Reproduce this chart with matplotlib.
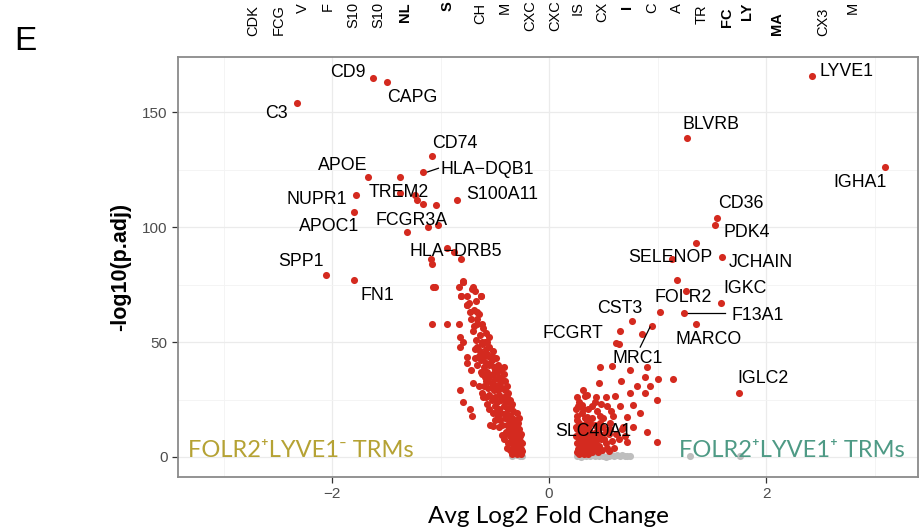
import matplotlib
matplotlib.use("Agg")
from matplotlib import pyplot as plt
from matplotlib.ticker import MultipleLocator

# labelled genes: avg log2 fold change and -log10(p.adj)
genes = ["CD9", "CAPG", "C3", "CD74", "HLA-DQB1", "APOE", "TREM2", "NUPR1",
         "APOC1", "S100A11", "FCGR3A", "HLA-DRB5", "SPP1", "FN1",
         "LYVE1", "BLVRB", "IGHA1", "CD36", "PDK4", "SELENOP", "JCHAIN",
         "IGKC", "FOLR2", "F13A1", "MARCO", "CST3", "FCGRT", "MRC1",
         "IGLC2", "SLC40A1"]
gene_fc = [-1.62, -1.49, -2.32, -1.08, -1.16, -1.67, -1.37, -1.78,
           -1.80, -0.85, -1.31, -0.94, -2.06, -1.80,
           2.42, 1.27, 3.10, 1.55, 1.53, 1.13, 1.59,
           1.58, 1.26, 1.24, 1.35, 0.76, 0.65, 0.95,
           1.75, 0.40]
gene_p = [164.8, 163.0, 154.0, 131.0, 124.0, 122.0, 115.0, 114.0,
          106.5, 112.0, 98.0, 91.0, 79.0, 77.0,
          165.7, 138.7, 126.0, 104.0, 101.0, 86.0, 87.0,
          67.0, 72.0, 62.5, 58.0, 59.0, 55.0, 57.0,
          28.0, 10.0]

# other significant genes (down in LYVE1+)
down_fc = [-1.37, -1.24, -1.22, -1.16, -1.04, -1.12, -1.02, -0.88, -0.81,
           -1.09, -1.08, -1.05, -0.79, -0.81, -0.79, -0.76, -0.70, -0.68,
           -0.63, -1.07, -0.83, -0.79, -0.81, -0.76, -0.63, -0.76, -0.73,
           -0.66, -0.66, -0.66, -1.08, -0.94, -0.83, -0.58, -0.82, -0.79,
           -0.82, -0.66, -0.62, -0.59, -0.64, -0.57, -0.76, -0.76, -0.68,
           -0.54, -0.50, -0.72, -0.42, -0.70, -0.65, -0.82, -0.79, -0.61,
           -0.52, -0.73, -0.71, -0.54, -0.52, -0.43, -0.34,
           -0.70, -0.64, -0.61, -0.67, -0.55,
           -0.62, -0.58, -0.55, -0.60, -0.52, -0.56,
           -0.63, -0.58, -0.53, -0.49, -0.55, -0.47, -0.60,
           -0.57, -0.52, -0.48, -0.44, -0.55, -0.50, -0.46, -0.42, -0.62,
           -0.58, -0.53, -0.49, -0.45, -0.41, -0.56, -0.47, -0.43, -0.39, -0.51,
           -0.55, -0.50, -0.46, -0.42, -0.38, -0.36, -0.48, -0.44, -0.40, -0.53, -0.58,
           -0.50, -0.46, -0.42, -0.38, -0.35, -0.33, -0.44, -0.40, -0.36, -0.48, -0.55,
           -0.45, -0.41, -0.37, -0.34, -0.31, -0.39, -0.35, -0.32, -0.29, -0.43, -0.50,
           -0.40, -0.37, -0.34, -0.31, -0.28, -0.26, -0.36, -0.33, -0.30, -0.27, -0.41,
           -0.35, -0.32, -0.29, -0.27, -0.25, -0.33, -0.30, -0.28, -0.26, -0.38,
           -0.32, -0.29, -0.27, -0.25, -0.30, -0.26,
           -0.68, -0.65, -0.61, -0.66, -0.63, -0.59, -0.56, -0.60, -0.62, -0.57,
           -0.52, -0.47, -0.46, -0.42, -0.39, -0.36, -0.34, -0.31, -0.29, -0.30,
           -0.32, -0.28, -0.30, -0.34, -0.37, -0.39, -0.41, -0.44, -0.51, -0.53,
           -0.57, -0.65, -0.62, -0.69, -0.72, -0.74, -0.69, -0.67, -0.71]
down_p = [122.0, 114.0, 112.0, 110.0, 109.6, 100.0, 101.0, 89.0, 86.0,
          86.0, 84.0, 74.0, 76.5, 70.0, 76.0, 70.0, 74.0, 72.0,
          70.0, 74.0, 74.0, 76.0, 70.0, 66.0, 70.0, 66.0, 63.0,
          63.0, 60.0, 58.0, 58.0, 58.0, 58.0, 54.0, 52.0, 50.0,
          48.0, 48.0, 50.0, 50.0, 46.0, 45.0, 43.5, 41.0, 43.0,
          41.0, 38.0, 38.0, 39.0, 32.0, 31.0, 29.0, 24.0, 26.0,
          30.0, 21.0, 18.0, 14.0, 13.5, 9.5, 8.0,
          55.0, 53.0, 56.0, 51.0, 52.0,
          49.0, 47.0, 48.0, 45.0, 46.0, 44.0,
          42.0, 41.0, 42.0, 43.0, 40.0, 40.0, 39.0,
          37.0, 36.0, 37.0, 38.0, 35.0, 34.0, 35.0, 36.0, 36.0,
          33.0, 32.0, 31.0, 32.0, 33.0, 30.0, 29.0, 30.0, 31.0, 29.0,
          27.0, 26.0, 27.0, 26.0, 28.0, 25.0, 24.0, 25.0, 24.0, 25.0, 26.0,
          22.0, 21.0, 22.0, 21.0, 22.0, 20.0, 19.0, 19.0, 18.0, 20.0, 21.0,
          16.0, 17.0, 16.0, 17.0, 16.0, 14.0, 14.0, 13.0, 15.0, 14.0, 16.0,
          11.0, 12.0, 11.0, 11.0, 12.0, 10.0, 9.0, 9.0, 8.0, 9.0, 10.0,
          7.0, 6.0, 6.0, 7.0, 6.0, 4.5, 4.0, 4.5, 3.5, 6.0,
          3.0, 2.5, 2.0, 2.5, 1.5, 1.5,
          47.0, 44.0, 43.0, 40.0, 37.0, 35.0, 33.0, 31.0, 28.0, 23.0,
          19.0, 18.0, 13.0, 8.0, 4.0, 3.0, 1.5, 9.5, 11.0, 13.0,
          15.0, 17.0, 19.0, 23.0, 24.0, 27.0, 29.0, 34.0, 39.0, 44.0,
          50.0, 62.0, 58.0, 64.0, 60.0, 67.0, 57.0, 68.0, 73.0]

# other significant genes (up in LYVE1+)
up_fc = [1.35, 1.18, 1.02, 0.86, 0.62, 0.64, 1.14, 0.99, 0.90,
         0.47, 0.58, 0.75, 0.90, 1.00, 0.88, 0.46, 0.66, 0.81, 0.93,
         0.33, 0.43, 0.52, 0.61, 0.75, 0.88, 0.99, 0.77, 0.65, 0.53,
         0.40, 0.30, 0.84, 0.72, 0.59, 0.47, 0.35, 0.77, 0.67, 0.72, 0.64,
         0.26, 0.30, 0.35, 0.28, 0.32, 0.38, 0.42, 0.26, 0.30, 0.34,
         0.38, 0.45, 0.50, 0.27, 0.31, 0.35, 0.40, 0.44, 0.48, 0.55,
         0.26, 0.29, 0.33, 0.37, 0.41, 0.46, 0.52, 0.58, 0.27, 0.31,
         0.35, 0.39, 0.43, 0.49, 0.26, 0.30, 0.34, 0.38, 0.28, 0.36,
         0.44, 0.25, 0.50, 0.56,
         0.27, 0.31, 0.26, 0.29, 0.33, 0.36, 0.40, 0.43, 0.47, 0.52,
         0.28, 0.32, 0.36, 0.39, 0.43, 0.47, 0.51, 0.56, 0.29, 0.33,
         0.37, 0.41, 0.45, 0.53, 0.28, 0.32, 0.36, 0.40, 0.25, 0.25,
         0.62, 0.60, 0.55, 0.45, 0.68, 0.70, 0.35, 0.31, 0.42, 0.57,
         0.48, 0.26]
up_p = [93.0, 77.0, 63.0, 53.5, 49.5, 49.0, 34.0, 6.5, 11.0,
        39.0, 39.5, 38.0, 39.0, 34.0, 35.0, 32.0, 33.0, 31.0, 31.0,
        26.5, 26.0, 26.0, 26.5, 28.0, 28.0, 25.0, 22.5, 22.0, 22.0,
        22.0, 22.5, 19.0, 17.5, 18.0, 18.0, 17.5, 13.0, 12.0, 6.5, 8.0,
        18.0, 19.0, 16.0, 15.0, 14.0, 15.0, 14.0, 12.0, 11.0, 12.0,
        11.0, 12.0, 13.0, 9.0, 8.0, 9.0, 8.0, 9.0, 8.0, 10.0,
        6.0, 5.0, 6.0, 5.0, 6.0, 5.0, 6.0, 7.0, 3.5, 3.0,
        3.5, 3.0, 3.5, 3.0, 2.0, 2.0, 2.0, 2.5, 24.0, 21.0,
        20.0, 21.0, 17.0, 15.0,
        22.0, 21.0, 16.0, 13.0, 17.0, 13.0, 17.0, 11.0, 15.0, 11.0,
        7.0, 10.0, 7.0, 10.0, 7.0, 10.0, 8.0, 12.0, 4.5, 4.5,
        4.0, 4.5, 4.0, 4.0, 1.5, 1.5, 1.5, 2.0, 9.0, 13.0,
        10.0, 4.0, 2.5, 2.0, 13.0, 9.0, 27.0, 29.0, 24.0, 20.0,
        23.0, 26.0]

# not significant
ns_fc = [-0.34, -0.27, -0.30, -0.25, 0.26, 0.30, 0.34, 0.38, 0.42, 0.46,
         0.50, 0.55, 0.60, 0.65, 0.70, 0.75, 0.28, 0.36, 0.44, 1.30, 1.76,
         0.29, 0.33, 0.40, 0.48, 0.52, 0.58, 0.63, 0.67, 0.72]
ns_p = [0.3, 0.3, 0.8, 0.5, 0.5, 0.3, 0.6, 0.4, 0.5, 0.3,
        0.6, 0.4, 0.5, 0.3, 0.6, 0.4, 1.2, 1.3, 1.1, 0.3, 0.3,
        0.2, 1.0, 1.0, 1.0, 0.2, 1.0, 0.8, 1.0, 0.3]

# visible (cropped) labels of the panel above
top_labels = ["CDK", "FCG", "V", "F", "S10", "S10", "NL", "S", "CH", "M",
              "CXC", "CXC", "IS", "CX", "I", "C", "A", "TR", "FC", "LY",
              "MA", "CX3", "M"]
top_bold = [False, False, False, False, False, False, True, True, False, False,
            False, False, False, False, True, False, False, False, True, True,
            True, False, False]

RED = "#D42A1F"
GREY = "#BEBEBE"
SANS = ["Liberation Sans", "DejaVu Sans"]
CAL = ["Lato", "DejaVu Sans"]

W, H = 922, 529
fig = plt.figure(figsize=(W / 100, H / 100), dpi=100)
ax = fig.add_axes([178 / W, 1 - 477 / H, 740 / W, 420 / H])

ax.scatter(ns_fc, ns_p, s=26, color=GREY, linewidths=0, zorder=2)
ax.scatter(down_fc + up_fc, down_p + up_p, s=26, color=RED, linewidths=0, zorder=3)
ax.scatter(gene_fc, gene_p, s=26, color=RED, linewidths=0, zorder=3)

# label placement (text centre in data units)
label_pos = {
    "CD9": (-1.85, 167.4), "CAPG": (-1.26, 156.5), "C3": (-2.51, 149.6),
    "CD74": (-0.87, 136.5), "HLA-DQB1": (-0.57, 125.2), "APOE": (-1.90, 127.0),
    "TREM2": (-1.39, 115.0), "NUPR1": (-2.14, 112.0), "APOC1": (-2.03, 100.4),
    "S100A11": (-0.43, 114.0), "FCGR3A": (-1.27, 103.0), "HLA-DRB5": (-0.86, 89.6),
    "SPP1": (-2.29, 85.0), "FN1": (-1.58, 70.4), "LYVE1": (2.74, 167.8),
    "BLVRB": (1.49, 144.8), "IGHA1": (2.87, 119.6), "CD36": (1.77, 110.4),
    "PDK4": (1.82, 97.8), "SELENOP": (1.12, 87.0), "JCHAIN": (1.95, 84.8),
    "IGKC": (1.81, 73.5), "FOLR2": (1.24, 69.6), "F13A1": (1.92, 61.7),
    "MARCO": (1.47, 50.9), "CST3": (0.65, 64.8), "FCGRT": (0.22, 53.9),
    "MRC1": (0.82, 43.0), "IGLC2": (1.97, 34.3), "SLC40A1": (0.41, 11.3),
}
for g in genes:
    tx, ty = label_pos[g]
    ax.text(tx, ty, g.replace("-", "\u2212"), fontsize=12.8, family=SANS,
            ha="center", va="center", zorder=4)

# leader segments
ax.plot([-1.12, -1.02], [124.0, 125.6], color="black", lw=0.9, zorder=4)
ax.plot([0.93, 0.84], [56.5, 47.8], color="black", lw=0.9, zorder=4)
ax.plot([1.28, 1.62], [62.6, 62.6], color="black", lw=0.9, zorder=4)

ax.text(-3.33, 3.0, "FOLR2\u207aLYVE1\u207b TRMs", color="#B5A234", fontsize=17,
        family=CAL, ha="left", va="center", zorder=5)
ax.text(3.28, 3.0, "FOLR2\u207aLYVE1\u207a TRMs", color="#4E9A85", fontsize=17,
        family=CAL, ha="right", va="center", zorder=5)

ax.set_xlim(-3.42, 3.40)
ax.set_ylim(-8.7, 174)
ax.xaxis.set_minor_locator(MultipleLocator(1))
ax.yaxis.set_major_locator(MultipleLocator(50))
ax.yaxis.set_minor_locator(MultipleLocator(25))
ax.set_xticks([-2, 0, 2])
ax.set_xticklabels(["\u22122", "0", "2"])
ax.grid(which="major", color="#EBEBEB", lw=0.9, zorder=0)
ax.grid(which="minor", color="#F3F3F3", lw=0.6, zorder=0)
ax.set_axisbelow(True)
ax.tick_params(which="major", length=4, width=0.9, color="#333333",
               labelcolor="#4D4D4D", labelsize=11)
ax.tick_params(which="minor", length=0)
for lbl in ax.get_xticklabels() + ax.get_yticklabels():
    lbl.set_family(SANS)
for sp in ax.spines.values():
    sp.set_color("#8A8A8A")
    sp.set_linewidth(1.3)

ax.set_xlabel("Avg Log2 Fold Change", fontsize=17.5, family=CAL, labelpad=3)
ax.set_ylabel("-log10(p.adj)", fontsize=15.5, family=SANS, fontweight="bold", labelpad=8)

# panel letter and cropped labels from the panel above
fig.text(14 / W, 1 - 42 / H, "E", fontsize=24, family=SANS, ha="left", va="center")
top_x = [253, 279, 303, 328, 353, 378, 405, 448, 480, 505, 530, 555, 578,
         602, 627, 652, 677, 702, 727, 747, 777, 823, 853]
top_start = [36, 35, 13, 11, 28, 28, 22, 11, 24, 14, 31, 31, 15,
             22, 9, 13, 13, 24, 27, 20, 35, 36, 14]
for name, bold, px, py in zip(top_labels, top_bold, top_x, top_start):
    fig.text(px / W, 1 - py / H, name, rotation=90, rotation_mode="anchor",
             ha="left", va="center", fontsize=10.5, family=SANS,
             fontweight="bold" if bold else "normal")

fig.savefig("out.png", dpi=100)
